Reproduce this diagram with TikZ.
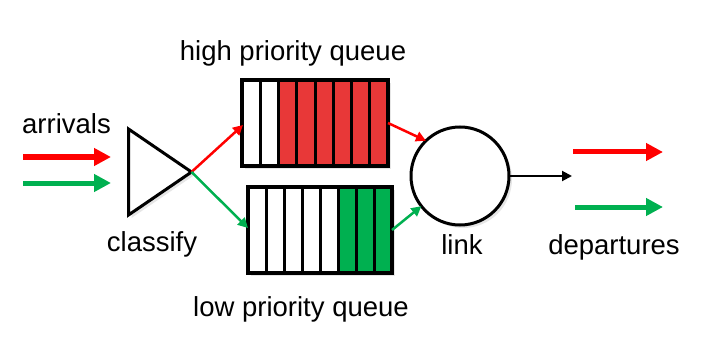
\documentclass[tikz,border=0pt]{standalone}
\usepackage{fontspec}
\setmainfont{Liberation Sans}
\usetikzlibrary{arrows.meta,shadows,calc}
\definecolor{qred}{RGB}{232,56,56}
\definecolor{qgreen}{RGB}{0,176,80}
\definecolor{ared}{RGB}{255,0,0}
\definecolor{agreen}{RGB}{0,176,80}
\begin{document}
\begin{tikzpicture}[x=1pt,y=-1pt,
  lbl/.style={font=\fontsize{27.5}{33}\selectfont, inner sep=0pt, anchor=base},
  qbox/.style={draw=black, fill=white, line width=4pt, inner sep=0pt, outer sep=0pt,
    drop shadow={opacity=0.2, shadow xshift=3pt, shadow yshift=-3pt}},
  divider/.style={line width=3pt},
  thinarrow/.style={line width=2.5pt, -{Triangle[length=10pt,width=10pt]}},
  bigarrow/.style={line width=5pt, -{Triangle[length=17pt,width=17pt]}},
]
\useasboundingbox (0,0) rectangle (704,342);

% queues
\node[qbox, minimum width=146pt, minimum height=86pt] (hq) at (315,123) {};
\node[qbox, minimum width=144pt, minimum height=86pt] (lq) at (320,230) {};
\fill[qred] ($(hq.north west)!2/8!(hq.north east)$) rectangle (hq.south east);
\fill[qgreen] ($(lq.north west)!5/8!(lq.north east)$) rectangle (lq.south east);
\foreach \i in {1,...,7} {
  \draw[divider] ($(hq.north west)!\i/8!(hq.north east)$) -- ($(hq.south west)!\i/8!(hq.south east)$);
  \draw[divider] ($(lq.north west)!\i/8!(lq.north east)$) -- ($(lq.south west)!\i/8!(lq.south east)$);
}
\draw[line width=4pt] (hq.north west) rectangle (hq.south east);
\draw[line width=4pt] (lq.north west) rectangle (lq.south east);

% classifier triangle
\coordinate (ttop) at (128.5,129);
\coordinate (apex) at (191.5,172);
\coordinate (tbot) at (128.5,215);
\draw[line width=3pt, fill=white, drop shadow={opacity=0.2, shadow xshift=3pt, shadow yshift=-3pt}]
  (ttop) -- (apex) -- (tbot) -- cycle;

% link
\node[circle, draw=black, fill=white, line width=3pt, minimum size=98pt, inner sep=0pt, outer sep=0pt,
  drop shadow={opacity=0.2, shadow xshift=3pt, shadow yshift=-3pt}] (link) at (460,176) {};

% connectors
\draw[thinarrow, ared] (apex) -- ($(hq.west)+(1,2)$);
\draw[thinarrow, agreen] (apex) -- ($(lq.west)+(0,-2)$);
\draw[thinarrow, ared] (hq.east) -- (link.134);
\draw[thinarrow, agreen] (lq.east) -- (link.218);
\coordinate (out) at (572,176);
\draw[line width=2pt, -{Triangle[length=10pt,width=10pt]}, black] (link.east) -- (out);

% arrivals / departures arrows
\coordinate (ar1s) at (23,157); \coordinate (ar1e) at (111,157);
\coordinate (ar2s) at (23,183); \coordinate (ar2e) at (111,183);
\coordinate (dp1s) at (573,152); \coordinate (dp1e) at (663,152);
\coordinate (dp2s) at (575,207); \coordinate (dp2e) at (663,207);
\draw[bigarrow, ared] (ar1s) -- (ar1e);
\draw[bigarrow, agreen] (ar2s) -- (ar2e);
\draw[bigarrow, ared] (dp1s) -- (dp1e);
\draw[bigarrow, agreen] (dp2s) -- (dp2e);

% labels
\node[lbl] (thq) at (293,61) {high priority queue};
\node[lbl] (tlq) at (301,316) {low priority queue};
\node[lbl] (tarr) at (66.5,134) {arrivals};
\node[lbl] (tcls) at (152,251) {classify};
\node[lbl] (tlink) at (462,254) {link};
\node[lbl] (tdep) at (614,254) {departures};
\end{tikzpicture}
\end{document}
